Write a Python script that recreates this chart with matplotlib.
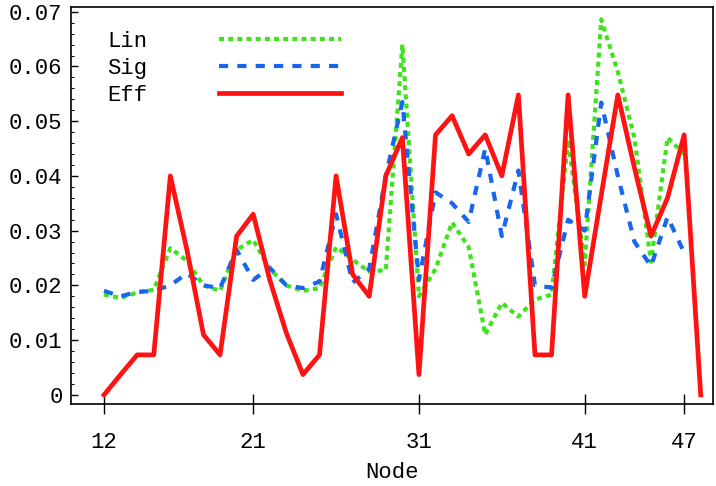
import matplotlib
matplotlib.use('Agg')
import matplotlib.pyplot as plt
from matplotlib.ticker import MultipleLocator

# valori
nodi = list(range(12, 49))
nodi_ls = list(range(12, 48))

lin = [0.0183, 0.0177, 0.0187, 0.0192, 0.0268, 0.0245, 0.0200, 0.0190, 0.0265, 0.0283,
       0.0230, 0.0200, 0.0190, 0.0195, 0.0270, 0.0247, 0.0225, 0.0228, 0.0640, 0.0180,
       0.0230, 0.0315, 0.0270, 0.0110, 0.0168, 0.0143, 0.0174, 0.0183, 0.0466, 0.0238,
       0.0686, 0.0590, 0.0470, 0.0243, 0.0470, 0.0440]

sig = [0.0190, 0.0180, 0.0188, 0.0190, 0.0200, 0.0222, 0.0200, 0.0195, 0.0265, 0.0210,
       0.0232, 0.0200, 0.0195, 0.0207, 0.0330, 0.0205, 0.0230, 0.0400, 0.0535, 0.0210,
       0.0370, 0.0350, 0.0316, 0.0450, 0.0290, 0.0410, 0.0200, 0.0196, 0.0320, 0.0300,
       0.0534, 0.0400, 0.0280, 0.0235, 0.0325, 0.0260]

eff = [0.0, 0.0037, 0.0073, 0.0073, 0.0400, 0.0265, 0.0110, 0.0073, 0.0290, 0.0330,
       0.0210, 0.0113, 0.0037, 0.0073, 0.0400, 0.0220, 0.0180, 0.0400, 0.0470, 0.0037,
       0.0475, 0.0510, 0.0440, 0.0475, 0.0400, 0.0548, 0.0073, 0.0073, 0.0548, 0.0180,
       0.0365, 0.0548, 0.0415, 0.0290, 0.0360, 0.0475, 0.0]

xticks = [12, 21, 31, 41, 47]
yticks = [0, 0.01, 0.02, 0.03, 0.04, 0.05, 0.06, 0.07]
yticklabels = ['0', '0.01', '0.02', '0.03', '0.04', '0.05', '0.06', '0.07']

plt.rcParams['font.family'] = ['Liberation Mono', 'DejaVu Sans Mono']

fig = plt.figure(figsize=(7.16, 4.86), dpi=100)
ax = fig.add_axes([0.099, 0.169, 0.897, 0.817])

ax.plot(nodi_ls, lin, color='#3fe31c', lw=3, linestyle=(0, (1.2, 1.0)), label='Lin')
ax.plot(nodi_ls, sig, color='#1766ee', lw=3, linestyle=(0, (2.2, 2.2)), label='Sig')
ax.plot(nodi, eff, color='#ff1212', lw=3.4, linestyle='-', label='Eff')

ax.set_xlim(10.0, 48.75)
ax.set_ylim(-0.00165, 0.0709)

ax.set_xticks(xticks)
ax.set_yticks(yticks)
ax.set_yticklabels(yticklabels)
ax.yaxis.set_minor_locator(MultipleLocator(0.002))

ax.tick_params(axis='x', direction='inout', length=14, width=1, pad=13, labelsize=16)
ax.tick_params(axis='y', which='major', direction='in', length=5, width=1, pad=6, labelsize=16)
ax.tick_params(axis='y', which='minor', direction='in', length=2.5, width=0.8)
ax.tick_params(top=False, right=False)

for s in ax.spines.values():
    s.set_linewidth(1.2)

ax.set_xlabel('Node', fontsize=16, labelpad=7)

ax.legend(loc='upper left', bbox_to_anchor=(0.026, 0.99), frameon=False, markerfirst=False,
          fontsize=16, handlelength=5.5, handletextpad=3.2, labelspacing=0.27)

fig.savefig('out.png', dpi=100)
